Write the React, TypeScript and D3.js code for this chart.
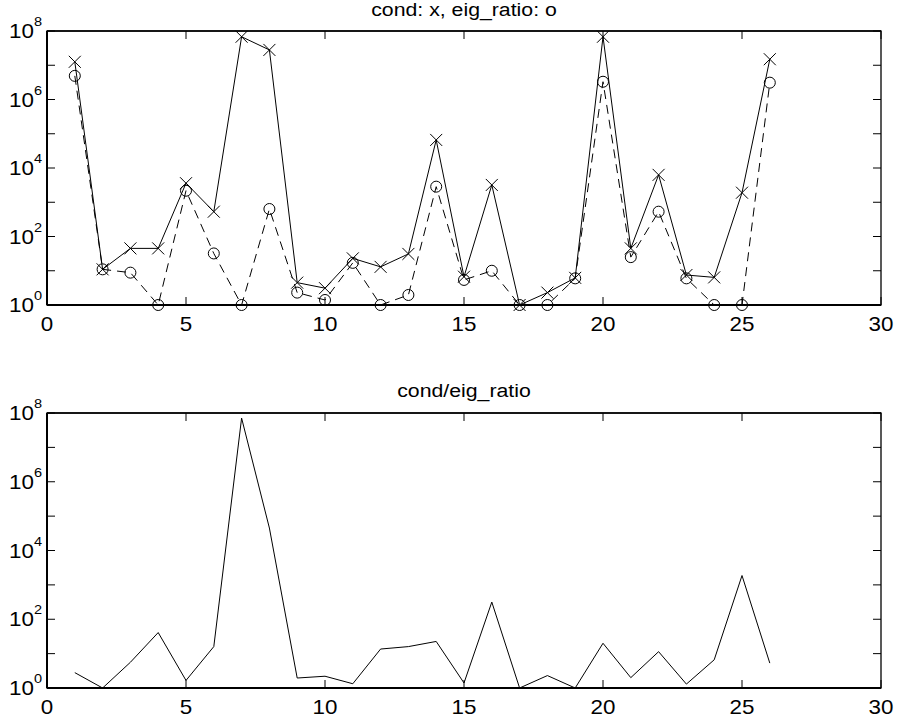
import React, { useRef, useEffect } from 'react';
import * as d3 from 'd3';

// run index (x axis)
const runs = [1, 2, 3, 4, 5, 6, 7, 8, 9, 10, 11, 12, 13, 14, 15, 16, 17, 18, 19, 20, 21, 22, 23, 24, 25, 26];

// condition number, drawn with x markers
const cond = [1.26e7, 11, 45, 45, 3600, 530, 6.8e7, 2.8e7, 4.5, 3.1, 23, 13, 31, 6.6e4, 6.7, 3200,
    1, 2.3, 6.2, 6.8e7, 45, 6300, 7.5, 6.4, 1900, 1.5e7];

// eigenvalue ratio, drawn with o markers
const eigRatio = [4.9e6, 11, 8.8, 1, 2170, 32, 1, 635, 2.3, 1.4, 17, 1, 1.96, 2850, 5.4, 10,
    1, 1, 6, 3.3e6, 25, 530, 6, 1, 1, 3.1e6];

// cond / eig_ratio
const ratio = [2.8, 1, 5.6, 41, 1.66, 16, 7.1e7, 4.5e4, 1.95, 2.2, 1.33, 13.6, 16, 22.6, 1.4, 316,
    1, 2.3, 1, 20, 2.0, 11.4, 1.3, 6.6, 1870, 5.3];

const xTicks = [0, 5, 10, 15, 20, 25, 30];
const yDecades = [0, 1, 2, 3, 4, 5, 6, 7, 8];
const yLabelled = [0, 2, 4, 6, 8];

const App = () => {
    const ref = useRef(null);

    useEffect(() => {
        const W = 897, H = 725;
        d3.select(ref.current).selectAll('*').remove();
        const svg = d3.select(ref.current)
            .append('svg')
            .attr('width', W)
            .attr('height', H)
            .style('position', 'absolute')
            .style('left', 0)
            .style('top', 0)
            .style('background', '#fff');

        const font = 'Liberation Sans, Arial, Helvetica, sans-serif';
        const stretch = 1.12;

        const x = d3.scaleLinear().domain([0, 30]).range([47, 881]);

        // draws one panel: box, ticks, labels, title
        function panel(top, bottom, title, titleY) {
            const y = d3.scaleLog().domain([1, 1e8]).range([bottom, top]);
            const g = svg.append('g');

            // ticks, inside, on all four sides
            const tl = 8;
            xTicks.forEach(t => {
                g.append('line').attr('x1', x(t)).attr('x2', x(t))
                    .attr('y1', bottom).attr('y2', bottom - tl).attr('stroke', '#000');
                g.append('line').attr('x1', x(t)).attr('x2', x(t))
                    .attr('y1', top).attr('y2', top + tl).attr('stroke', '#000');
            });
            yDecades.forEach(d => {
                const yy = y(Math.pow(10, d));
                g.append('line').attr('x1', x(0)).attr('x2', x(0) + tl)
                    .attr('y1', yy).attr('y2', yy).attr('stroke', '#000');
                g.append('line').attr('x1', x(30)).attr('x2', x(30) - tl)
                    .attr('y1', yy).attr('y2', yy).attr('stroke', '#000');
            });

            // box
            g.append('rect').attr('x', x(0)).attr('y', top)
                .attr('width', x(30) - x(0)).attr('height', bottom - top)
                .attr('fill', 'none').attr('stroke', '#000').attr('stroke-width', 1.3);
            g.append('line').attr('x1', x(0)).attr('x2', x(0)).attr('y1', top).attr('y2', bottom)
                .attr('stroke', '#000').attr('stroke-width', 2);
            g.append('line').attr('x1', x(0)).attr('x2', x(30)).attr('y1', bottom).attr('y2', bottom)
                .attr('stroke', '#000').attr('stroke-width', 2);
            g.append('line').attr('x1', x(0)).attr('x2', x(30)).attr('y1', top).attr('y2', top)
                .attr('stroke', '#000').attr('stroke-width', 1.6);

            // x tick labels
            xTicks.forEach(t => {
                g.append('g').attr('transform', `translate(${x(t)},${bottom + 26}) scale(${stretch},1)`)
                    .append('text').attr('text-anchor', 'middle')
                    .attr('font-family', font).attr('font-size', 20).attr('fill', '#000')
                    .text(t);
            });

            // y tick labels 10^n
            yLabelled.forEach(d => {
                const t = g.append('g').attr('transform', `translate(42,${y(Math.pow(10, d)) + 7}) scale(${stretch},1)`)
                    .append('text').attr('text-anchor', 'end')
                    .attr('font-family', font).attr('font-size', 20).attr('fill', '#000');
                t.append('tspan').text('10');
                t.append('tspan').attr('dy', -12).attr('font-size', 13).text(d);
            });

            // title
            g.append('g').attr('transform', `translate(${(x(0) + x(30)) / 2},${titleY}) scale(${stretch},1)`)
                .append('text').attr('text-anchor', 'middle')
                .attr('font-family', font).attr('font-size', 19).attr('fill', '#000')
                .text(title);

            return y;
        }

        const y1 = panel(31, 305, 'cond: x, eig_ratio: o', 16);
        const y2 = panel(413, 688, 'cond/eig_ratio', 397);

        const line1 = d3.line().x((d, i) => x(runs[i])).y(d => y1(d));
        const line2 = d3.line().x((d, i) => x(runs[i])).y(d => y2(d));

        // cond: solid with x markers
        svg.append('path').datum(cond).attr('d', line1)
            .attr('fill', 'none').attr('stroke', '#000').attr('stroke-width', 1);
        const s = 6;
        svg.append('g').selectAll('path').data(cond).join('path')
            .attr('d', (d, i) => {
                const cx = x(runs[i]), cy = y1(d);
                return `M${cx - s},${cy - s}L${cx + s},${cy + s}M${cx - s},${cy + s}L${cx + s},${cy - s}`;
            })
            .attr('stroke', '#000').attr('stroke-width', 1).attr('fill', 'none');

        // eig_ratio: dashed with o markers
        svg.append('path').datum(eigRatio).attr('d', line1)
            .attr('fill', 'none').attr('stroke', '#000').attr('stroke-width', 1)
            .attr('stroke-dasharray', '9,6');
        svg.append('g').selectAll('circle').data(eigRatio).join('circle')
            .attr('cx', (d, i) => x(runs[i])).attr('cy', d => y1(d)).attr('r', 5.5)
            .attr('fill', 'none').attr('stroke', '#000').attr('stroke-width', 1);

        // ratio: solid
        svg.append('path').datum(ratio).attr('d', line2)
            .attr('fill', 'none').attr('stroke', '#000').attr('stroke-width', 1);
    }, []);

    return <div ref={ref}></div>;
};

export default App;
